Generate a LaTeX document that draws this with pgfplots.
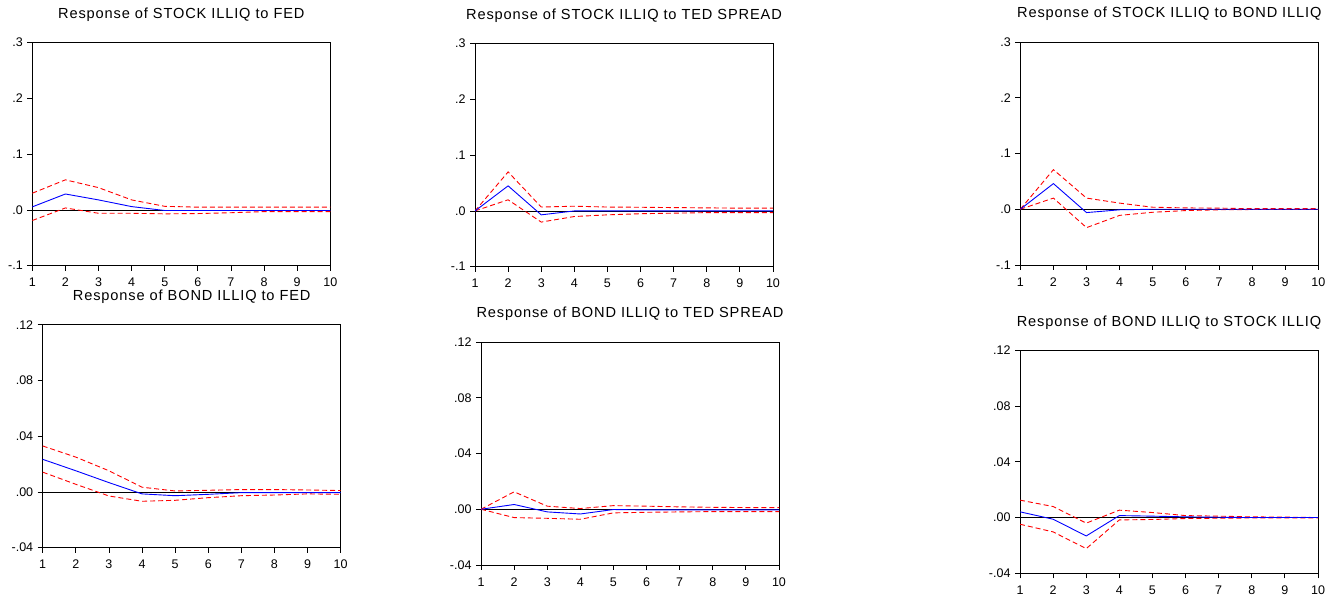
\documentclass[border=0pt]{standalone}
\usepackage{pgfplots}
\pgfplotsset{compat=1.18}
\usepackage{fontspec}
\setmainfont{Liberation Sans}
\newfontfamily\titlefont[LetterSpace=6]{Liberation Sans}

\pgfplotsset{
  irf/.style={
    scale only axis, width=298pt, height=223pt,
    xmin=1, xmax=10, xtick={1,...,10},
    xticklabels={1,2,3,4,5,6,7,8,9,10},
    tick align=outside, xtick pos=bottom, ytick pos=left,
    major tick length=5pt,
    tick style={black, line width=0.8pt},
    axis line style={black, line width=0.8pt},
    tick label style={font=\fontsize{12.5}{14}\selectfont},
    xticklabel style={yshift=-4pt},
    yticklabel style={xshift=-1pt},
    /pgf/number format/assume math mode=true,
    title style={font=\titlefont\fontsize{14.6}{17}\selectfont, anchor=center, at={(0.5,1)}, yshift=22pt},
  },
  top/.style={ymin=-0.1, ymax=0.3, ytick={-0.1,0,0.1,0.2,0.3}, yticklabels={-.1,.0,.1,.2,.3}},
  bot/.style={ymin=-0.04, ymax=0.12, ytick={-0.04,0,0.04,0.08,0.12}, yticklabels={-.04,.00,.04,.08,.12}},
  zero/.style={black, line width=0.8pt},
  ci/.style={red, line width=0.9pt, dash pattern=on 5pt off 3pt},
  resp/.style={blue, line width=0.9pt},
}

\begin{document}
\begin{tikzpicture}
\path[use as bounding box] (0,0) rectangle (1333pt,601pt);

% Panel 1
\begin{axis}[irf, top, at={(32.3pt,335.3pt)}, anchor=south west,
  title={Response of STOCK ILLIQ to FED}]
\addplot[zero] coordinates {(1,0) (10,0)};
\addplot[ci] coordinates {(1,0.030) (2,0.054) (3,0.040) (4,0.018) (5,0.0065) (6,0.005) (7,0.005) (8,0.005) (9,0.005) (10,0.005)};
\addplot[ci] coordinates {(1,-0.019) (2,0.0036) (3,-0.006) (4,-0.006) (5,-0.007) (6,-0.0065) (7,-0.005) (8,-0.003) (9,-0.003) (10,-0.003)};
\addplot[resp] coordinates {(1,0.0055) (2,0.0286) (3,0.018) (4,0.006) (5,-0.001) (6,-0.001) (7,-0.001) (8,-0.001) (9,-0.001) (10,-0.001)};
\end{axis}

% Panel 2
\begin{axis}[irf, top, at={(475pt,334.3pt)}, anchor=south west,
  title={Response of STOCK ILLIQ to TED SPREAD}]
\addplot[zero] coordinates {(1,0) (10,0)};
\addplot[ci] coordinates {(1,0) (2,0.070) (3,0.007) (4,0.0085) (5,0.007) (6,0.0066) (7,0.006) (8,0.0055) (9,0.005) (10,0.005)};
\addplot[ci] coordinates {(1,0) (2,0.020) (3,-0.020) (4,-0.010) (5,-0.007) (6,-0.005) (7,-0.004) (8,-0.003) (9,-0.003) (10,-0.003)};
\addplot[resp] coordinates {(1,0) (2,0.045) (3,-0.007) (4,0) (5,0) (6,0) (7,0) (8,0) (9,0) (10,0)};
\end{axis}

% Panel 3
\begin{axis}[irf, top, at={(1020.3pt,336pt)}, anchor=south west,
  title={Response of STOCK ILLIQ to BOND ILLIQ}]
\addplot[zero] coordinates {(1,0) (10,0)};
\addplot[ci] coordinates {(1,0) (2,0.071) (3,0.020) (4,0.011) (5,0.0036) (6,0.0024) (7,0.002) (8,0.001) (9,0.001) (10,0.001)};
\addplot[ci] coordinates {(1,0) (2,0.020) (3,-0.033) (4,-0.011) (5,-0.0054) (6,-0.0024) (7,-0.001) (8,-0.0005) (9,-0.0005) (10,-0.0005)};
\addplot[resp] coordinates {(1,0) (2,0.046) (3,-0.006) (4,-0.001) (5,0) (6,0) (7,0) (8,0) (9,0) (10,0)};
\end{axis}

% Panel 4
\begin{axis}[irf, bot, at={(42.7pt,53.3pt)}, anchor=south west,
  title={Response of BOND ILLIQ to FED}]
\addplot[zero] coordinates {(1,0) (10,0)};
\addplot[ci] coordinates {(1,0.033) (2,0.025) (3,0.0152) (4,0.0034) (5,0.0007) (6,0.0012) (7,0.0017) (8,0.0017) (9,0.0014) (10,0.001)};
\addplot[ci] coordinates {(1,0.0142) (2,0.0055) (3,-0.0029) (4,-0.0067) (5,-0.006) (6,-0.0041) (7,-0.0027) (8,-0.0022) (9,-0.0014) (10,-0.0017)};
\addplot[resp] coordinates {(1,0.0234) (2,0.0152) (3,0.0067) (4,-0.0014) (5,-0.0027) (6,-0.0017) (7,-0.0005) (8,-0.0005) (9,-0.0005) (10,-0.0005)};
\end{axis}

% Panel 5
\begin{axis}[irf, bot, at={(481pt,36pt)}, anchor=south west,
  title={Response of BOND ILLIQ to TED SPREAD}]
\addplot[zero] coordinates {(1,0) (10,0)};
\addplot[ci] coordinates {(1,0) (2,0.0125) (3,0.0022) (4,0.0005) (5,0.0026) (6,0.0022) (7,0.0017) (8,0.0014) (9,0.0012) (10,0.0012)};
\addplot[ci] coordinates {(1,0) (2,-0.006) (3,-0.0065) (4,-0.0072) (5,-0.0026) (6,-0.0022) (7,-0.0019) (8,-0.0017) (9,-0.0017) (10,-0.0017)};
\addplot[resp] coordinates {(1,0) (2,0.0034) (3,-0.0019) (4,-0.0034) (5,-0.0002) (6,-0.0005) (7,-0.0005) (8,-0.0005) (9,-0.0005) (10,-0.0005)};
\end{axis}

% Panel 6
\begin{axis}[irf, bot, at={(1020pt,27.7pt)}, anchor=south west,
  title={Response of BOND ILLIQ to STOCK ILLIQ}]
\addplot[zero] coordinates {(1,0) (10,0)};
\addplot[ci] coordinates {(1,0.0125) (2,0.0079) (3,-0.004) (4,0.0053) (5,0.0036) (6,0.0014) (7,0.001) (8,0.0005) (9,0.0003) (10,0)};
\addplot[ci] coordinates {(1,-0.0048) (2,-0.0103) (3,-0.0223) (4,-0.0017) (5,-0.0014) (6,-0.0007) (7,-0.0005) (8,-0.0003) (9,-0.0003) (10,-0.0003)};
\addplot[resp] coordinates {(1,0.0041) (2,-0.0012) (3,-0.0132) (4,0.0014) (5,0.001) (6,0.0005) (7,0.0002) (8,0) (9,0) (10,0)};
\end{axis}
\end{tikzpicture}
\end{document}
